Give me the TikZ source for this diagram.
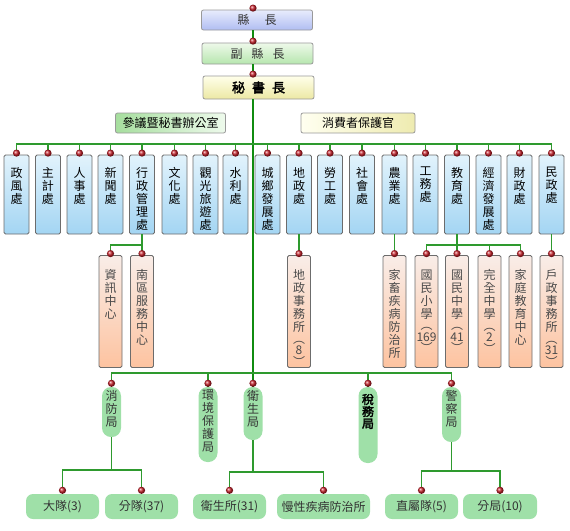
\documentclass[tikz,border=0pt]{standalone}
\usepackage{fontspec}
\setmainfont{Noto Sans CJK TC}
\newfontfamily\boldcjk[FakeBold=2.5]{Noto Sans CJK TC}
\usetikzlibrary{calc}

\definecolor{deptTop}{HTML}{E2F3FC}
\definecolor{deptBot}{HTML}{A3D5F3}
\definecolor{subTop}{HTML}{F9EDE8}
\definecolor{subBot}{HTML}{FDC3A0}
\definecolor{subText}{HTML}{4A4A4A}
\definecolor{pillGreen}{HTML}{9FE0A8}
\definecolor{pillText}{HTML}{333333}
\definecolor{linkgreen}{HTML}{2E9A2E}
\definecolor{trunkgreen}{HTML}{108C10}
\definecolor{pinred}{HTML}{C8202A}
\definecolor{xzA}{HTML}{E8ECFC}
\definecolor{xzB}{HTML}{B0BDF2}
\definecolor{fxA}{HTML}{EEF9EA}
\definecolor{fxB}{HTML}{B6E6AE}
\definecolor{msA}{HTML}{FFFFEA}
\definecolor{msB}{HTML}{ECE8A4}
\definecolor{cyA}{HTML}{A6DE9E}
\definecolor{cyB}{HTML}{EEFAEC}
\definecolor{xbA}{HTML}{FFFFF0}
\definecolor{xbB}{HTML}{EEEBB0}

% vertical text stacked from the top of a box
\newcommand{\vstack}[3]{\parbox[c][#1][t]{14pt}{\vspace*{#2}\centering #3}}
% red pin on top of a box
\newcommand{\pin}[2][1.5]{\shade[ball color=pinred] (#2) ++(0,-#1) circle (3.6pt);}

\begin{document}
\begin{tikzpicture}[x=1pt,y=-1pt,
  link/.style={draw=linkgreen,line width=1.1pt},
  trunk/.style={draw=trunkgreen,line width=2.4pt},
  topbox/.style={draw=gray!80,line width=0.8pt,rounded corners=2pt,minimum width=111pt,inner sep=0pt,font=\fontsize{12pt}{12pt}\selectfont,text=pillText},
  deptbox/.style={draw=gray!85!black,line width=0.8pt,rounded corners=1.5pt,top color=deptTop,bottom color=deptBot,minimum width=25pt,inner sep=0pt,font=\fontsize{12pt}{13pt}\selectfont},
  subbox/.style={deptbox,top color=subTop,bottom color=subBot,minimum width=23pt,text=subText},
  bureau/.style={fill=pillGreen,rounded corners=9pt,minimum width=19pt,inner sep=0pt,text=pillText,font=\fontsize{12pt}{13pt}\selectfont},
  unitbox/.style={fill=pillGreen,rounded corners=7pt,minimum width=73pt,minimum height=25pt,inner sep=0pt,text=pillText,font=\fontsize{12pt}{12pt}\selectfont}]
\useasboundingbox (0,0) rectangle (570,530);

% head of the county
\node[topbox,top color=xzA,bottom color=xzB,minimum height=20pt] (xzz) at (257,20) {縣\hspace{15pt}長};
\node[topbox,top color=fxA,bottom color=fxB,minimum height=21pt] (fxz) at (257.5,53.5) {副\hspace{9pt}縣\hspace{9pt}長};
\node[topbox,top color=msA,bottom color=msB,minimum height=23pt,text=black,font=\fontsize{13pt}{13pt}\boldcjk] (msz) at (258.5,87.5) {秘\hspace{7pt}書\hspace{7pt}長};
\node[topbox,left color=cyA,right color=cyB,minimum width=110pt,minimum height=20pt,text=black] (cy) at (170.5,123) {參議暨秘書辦公室};
\node[topbox,left color=xbA,right color=xbB,minimum width=114pt,minimum height=20pt,text=black] (xb) at (358,123) {消費者保護官};

% departments
\node[deptbox] (zf) at (16.5,194.5) {\vstack{79pt}{12pt}{政\\風\\處}};
\node[deptbox] (zj) at (48,194.5) {\vstack{79pt}{12pt}{主\\計\\處}};
\node[deptbox] (rs) at (79.5,194.5) {\vstack{79pt}{12pt}{人\\事\\處}};
\node[deptbox] (xw) at (110.5,194.5) {\vstack{79pt}{12pt}{新\\聞\\處}};
\node[deptbox] (xzgl) at (142,194.5) {\vstack{79pt}{12pt}{行\\政\\管\\理\\處}};
\node[deptbox] (wh) at (174.5,194.5) {\vstack{79pt}{12pt}{文\\化\\處}};
\node[deptbox] (gg) at (205.5,194.5) {\vstack{79pt}{12pt}{觀\\光\\旅\\遊\\處}};
\node[deptbox] (sl) at (235.5,194.5) {\vstack{79pt}{12pt}{水\\利\\處}};
\node[deptbox] (cx) at (267.5,194.5) {\vstack{79pt}{12pt}{城\\鄉\\發\\展\\處}};
\node[deptbox] (dz) at (299,194.5) {\vstack{79pt}{12pt}{地\\政\\處}};
\node[deptbox] (lg) at (330,194.5) {\vstack{79pt}{12pt}{勞\\工\\處}};
\node[deptbox] (sh) at (362,194.5) {\vstack{79pt}{12pt}{社\\會\\處}};
\node[deptbox] (ny) at (394.5,194.5) {\vstack{79pt}{12pt}{農\\業\\處}};
\node[deptbox] (gw) at (425.5,194.5) {\vstack{79pt}{12pt}{工\\務\\處}};
\node[deptbox] (jy) at (457,194.5) {\vstack{79pt}{12pt}{教\\育\\處}};
\node[deptbox] (jj) at (488.5,194.5) {\vstack{79pt}{12pt}{經\\濟\\發\\展\\處}};
\node[deptbox] (cz) at (519.5,194.5) {\vstack{79pt}{12pt}{財\\政\\處}};
\node[deptbox] (mz) at (551.5,194.5) {\vstack{79pt}{12pt}{民\\政\\處}};

% units under the departments
\node[subbox] (zx) at (110.5,311.5) {\vstack{112pt}{14pt}{資\\訊\\中\\心}};
\node[subbox] (nq) at (142,311.5) {\vstack{112pt}{14pt}{南\\區\\服\\務\\中\\心}};
\node[subbox] (dzs) at (299,311.5) {\vstack{112pt}{14pt}{地\\政\\事\\務\\所\\[-1.5pt]︵\\[-1.5pt]8\\[-1.5pt]︶}};
\node[subbox] (jc) at (394.5,311.5) {\vstack{112pt}{14pt}{家\\畜\\疾\\病\\防\\治\\所}};
\node[subbox] (gx) at (426.5,311.5) {\vstack{112pt}{14pt}{國\\民\\小\\學\\[-1.5pt]︵\\[-1.5pt]\makebox[0pt]{169}\\[-1.5pt]︶}};
\node[subbox] (gz) at (457,311.5) {\vstack{112pt}{14pt}{國\\民\\中\\學\\[-1.5pt]︵\\[-1.5pt]41\\[-1.5pt]︶}};
\node[subbox] (wq) at (489.5,311.5) {\vstack{112pt}{14pt}{完\\全\\中\\學\\[-1.5pt]︵\\[-1.5pt]2\\[-1.5pt]︶}};
\node[subbox] (jt) at (520.5,311.5) {\vstack{112pt}{14pt}{家\\庭\\教\\育\\中\\心}};
\node[subbox] (hz) at (551.5,311.5) {\vstack{112pt}{14pt}{戶\\政\\事\\務\\所\\[-1.5pt]︵\\[-1.5pt]31\\[-1.5pt]︶}};

% bureaus
\node[bureau] (xf) at (111.5,412) {\vstack{50pt}{3pt}{消\\防\\局}};
\node[bureau] (hb) at (208,424.5) {\vstack{75pt}{3pt}{環\\境\\保\\護\\局}};
\node[bureau] (ws) at (253,413.5) {\vstack{53pt}{3pt}{衛\\生\\局}};
\node[bureau,text=black] (sw) at (368,425) {\vstack{76pt}{7pt}{\boldcjk 稅\\[-1pt]務\\[-1pt]局}};
\node[bureau] (jcj) at (451.5,414.5) {\vstack{55pt}{3pt}{警\\察\\局}};

% units under the bureaus
\node[unitbox] (dd) at (62.5,506.5) {大隊(3)};
\node[unitbox] (fd) at (141.5,506.5) {分隊(37)};
\node[unitbox] (wss) at (229.5,506.5) {衛生所(31)};
\node[unitbox,minimum width=93pt] (mx) at (323.5,506.5) {慢性疾病防治所};
\node[unitbox] (zs) at (421.5,506.5) {直屬隊(5)};
\node[unitbox,minimum width=74pt] (fj) at (500,506.5) {分局(10)};

\coordinate (dbar) at (253,144);
\coordinate (xbar) at (142,245);
\coordinate (ebar) at (457,245);
\coordinate (bbar) at (253,373);
\coordinate (fbar) at (111.5,470);
\coordinate (hbar) at (253,472);
\coordinate (pbar) at (451.5,471);

% trunk
\draw[trunk] (xzz.south -| ws.north) -- (fxz.north -| ws.north);
\draw[trunk] (fxz.south -| ws.north) -- (msz.north -| ws.north);
\draw[trunk] (msz.south -| ws.north) -- (ws.north);

% connectors
\draw[link] (zf.north) |- (dbar) -| (mz.north);
\foreach \d in {zj,rs,xw,xzgl,wh,gg,sl,cx,dz,lg,sh,ny,gw,jy,jj,cz}
  \draw[link] (\d.north) -- (\d.north |- dbar);
\draw[link] (xzgl.south) -- (nq.north);
\draw[link] (zx.north) |- (xbar);
\draw[link] (dz.south) -- (dzs.north);
\draw[link] (ny.south) -- (jc.north);
\draw[link] (jy.south) -- (gz.north);
\draw[link] (gx.north) |- (ebar) -| (jt.north);
\draw[link] (wq.north) -- (wq.north |- ebar);
\draw[link] (mz.south) -- (hz.north);
\draw[link] (xf.north) |- (bbar) -| (jcj.north);
\draw[link] (hb.north) -- (hb.north |- bbar);
\draw[link] (sw.north) -- (sw.north |- bbar);
\draw[link] (xf.south) -- (fbar);
\draw[link] (dd.north) |- (fbar) -| (fd.north);
\draw[link] (ws.south) -- (hbar);
\draw[link] (wss.north) |- (hbar) -| (mx.north);
\draw[link] (jcj.south) -- (pbar);
\draw[link] (zs.north) |- (pbar) -| (fj.north);

% pins
\pin{xzz.north -| ws.north}
\pin{fxz.north -| ws.north}
\pin{msz.north -| ws.north}
\foreach \n in {zf,zj,rs,xw,xzgl,wh,gg,sl,cx,dz,lg,sh,ny,gw,jy,jj,cz,mz,zx,nq,dzs,jc,gx,gz,wq,jt,hz}
  {\pin{\n.north}}
\foreach \n in {xf,hb,ws,sw,jcj,dd,fd,wss,mx,zs,fj}
  {\pin[3.5]{\n.north}}
\end{tikzpicture}
\end{document}
